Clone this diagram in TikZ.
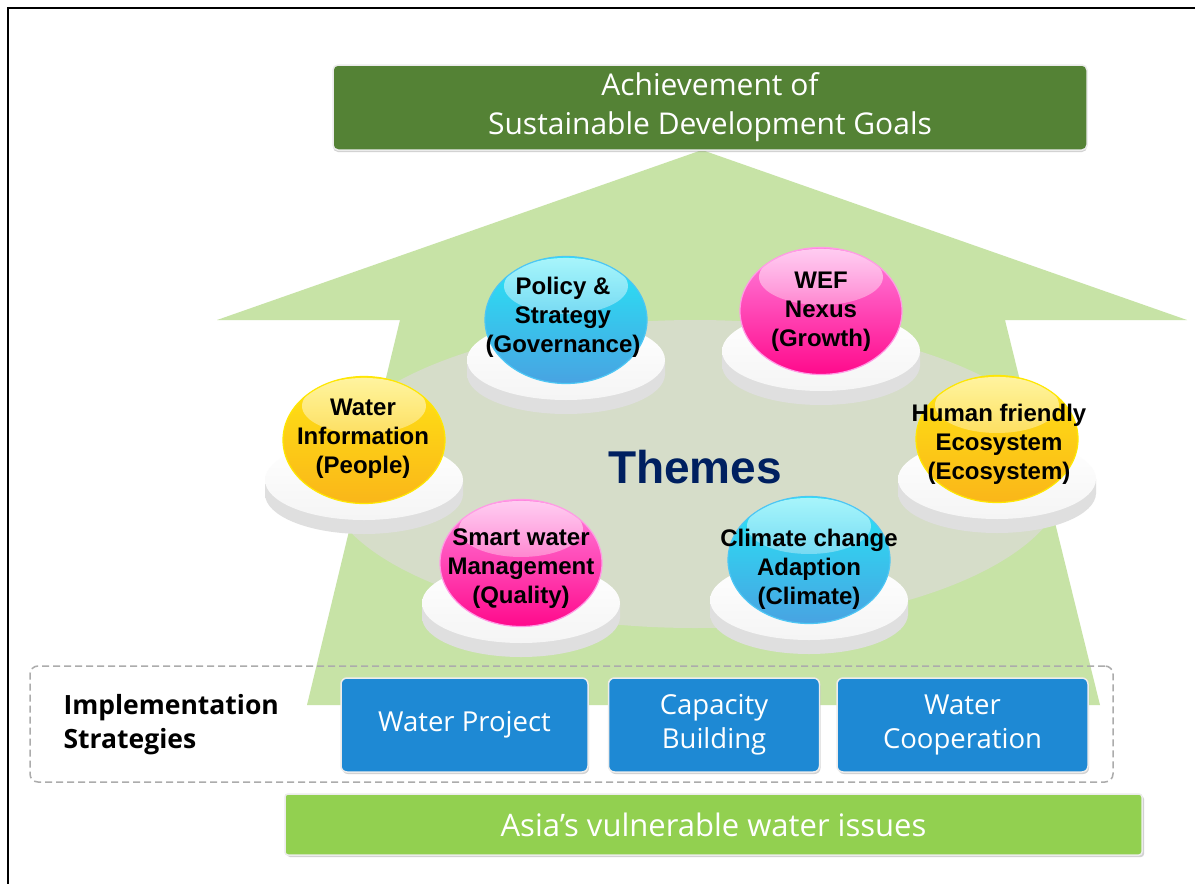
\documentclass[tikz,border=0pt]{standalone}
\usepackage{fontspec}
\setmainfont{Open Sans}
\newfontfamily\arialfont{Liberation Sans}
\usetikzlibrary{positioning,shapes,shadows,fadings}

\definecolor{arrowgreen}{RGB}{199,227,166}
\definecolor{themegray}{RGB}{214,221,201}
\definecolor{goalgreen}{RGB}{84,130,53}
\definecolor{basegreen}{RGB}{146,208,80}
\definecolor{stratblue}{RGB}{30,137,212}
\definecolor{themenavy}{RGB}{0,32,96}
\definecolor{cyantop}{RGB}{40,230,246}
\definecolor{cyanbot}{RGB}{72,163,226}
\definecolor{pinktop}{RGB}{255,130,222}
\definecolor{pinkbot}{RGB}{255,10,140}
\definecolor{yellowtop}{RGB}{255,228,20}
\definecolor{yellowbot}{RGB}{250,182,25}

\tikzstyle{goal} = [rectangle, rounded corners=5pt, minimum width=754pt, minimum height=85pt, align=center, draw=gray!15, line width=1.5pt, fill=goalgreen, text=white, font=\fontsize{30}{39}\selectfont, drop shadow={shadow xshift=0pt, shadow yshift=-2pt, opacity=0.35}]
\tikzstyle{base} = [rectangle, rounded corners=3pt, minimum width=857pt, minimum height=61pt, draw=gray!15, line width=1.5pt, fill=basegreen, text=white, font=\fontsize{31}{34}\selectfont, drop shadow={shadow xshift=2pt, shadow yshift=-2pt, opacity=0.35}]
\tikzstyle{strat} = [rectangle, rounded corners=6pt, minimum height=94pt, align=center, draw=gray!15, line width=1.5pt, fill=stratblue, text=white, font=\fontsize{27.5}{34}\selectfont, drop shadow={shadow xshift=1pt, shadow yshift=-2pt, opacity=0.35}]
\tikzstyle{stratframe} = [rectangle, rounded corners=8pt, minimum width=1083pt, minimum height=116pt, draw=gray!65, dash pattern=on 7pt off 4pt, line width=1.5pt]
\tikzstyle{area} = [ellipse, minimum width=744pt, minimum height=308pt, fill=themegray]
\tikzstyle{ball} = [ellipse, minimum width=162pt, minimum height=127pt, inner sep=0pt, line width=1.2pt, path picture={\fill[white, path fading=south, fill opacity=0.6] ([yshift=34pt]path picture bounding box.center) ellipse [x radius=62pt, y radius=28pt];}]
\tikzstyle{cyanball} = [ball, draw=cyan!70, top color=cyantop, bottom color=cyanbot]
\tikzstyle{pinkball} = [ball, draw=pinktop!80, top color=pinktop, bottom color=pinkbot]
\tikzstyle{yellowball} = [ball, draw=yellow!90!orange, top color=yellowtop, bottom color=yellowbot]
\tikzstyle{balltext} = [align=center, inner sep=0pt, font=\arialfont\bfseries\fontsize{24}{29}\selectfont]

\newcommand{\platform}[2]{%
  \shade[left color=gray!25, middle color=gray!55, right color=gray!25] (#1,#2+54) ellipse [x radius=99, y radius=40];
  \shade[left color=gray!25, middle color=gray!55, right color=gray!25] (#1-99,#2+40) rectangle (#1+99,#2+54);
  \shade[top color=white, bottom color=gray!8] (#1,#2+40) ellipse [x radius=99, y radius=40];
}

\begin{document}
\begin{tikzpicture}[x=1pt, y=-1pt]
\useasboundingbox (0,0) rectangle (1195,884);
\fill[white] (0,0) rectangle (1195,884);
\draw[line width=1.6pt] (8,900) -- (8,8) -- (1210,8);

% big arrow and theme area
\fill[arrowgreen] (702,150) -- (1187,320) -- (1005,320) -- (1100,705) -- (307,705) -- (400,320) -- (217,320) -- cycle;
\node (area) [area] at (695,474) {};

% platforms
\platform{566}{320}
\platform{821}{311}
\platform{364}{440}
\platform{997}{439}
\platform{521}{563}
\platform{809}{560}

% themes
\node (policy) [cyanball] at (566,320) {};
\node (wef) [pinkball] at (821,311) {};
\node (info) [yellowball] at (364,440) {};
\node (eco) [yellowball] at (997,439) {};
\node (smart) [pinkball] at (521,563) {};
\node (climate) [cyanball] at (809,560) {};

\node (policytxt) [balltext] at (563,317) {Policy \&\\Strategy\\(Governance)};
\node (weftxt) [balltext] at (821,312) {WEF\\Nexus\\(Growth)};
\node (infotxt) [balltext] at (363,439) {Water\\Information\\(People)};
\node (ecotxt) [balltext] at (999,444) {Human friendly\\Ecosystem\\(Ecosystem)};
\node (smarttxt) [balltext] at (521,569) {Smart water\\Management\\(Quality)};
\node (climatetxt) [balltext] at (809,569) {Climate change\\Adaption\\(Climate)};

\node (themes) [text=themenavy, font=\arialfont\bfseries\fontsize{46}{50}\selectfont] at (695,467) {Themes};

% implementation strategies
\node (stratbox) [stratframe] at (571.5,724) {};
\node (project) [strat, minimum width=247pt] at (464.5,725) {Water Project};
\node (capacity) [strat, minimum width=211pt, right=19pt of project] {Capacity\\Building};
\node (coop) [strat, minimum width=251pt, right=16pt of capacity] {Water\\Cooperation};
\node (impl) [anchor=west, align=left, font=\bfseries\fontsize{26.5}{34}\selectfont] at (60,725) {Implementation\\Strategies};

% base and goal
\node (asia) [base] at (713.5,824.5) {Asia’s vulnerable water issues};
\node (goalbox) [goal] at (710,107.5) {Achievement of\\Sustainable Development Goals};

\end{tikzpicture}
\end{document}
